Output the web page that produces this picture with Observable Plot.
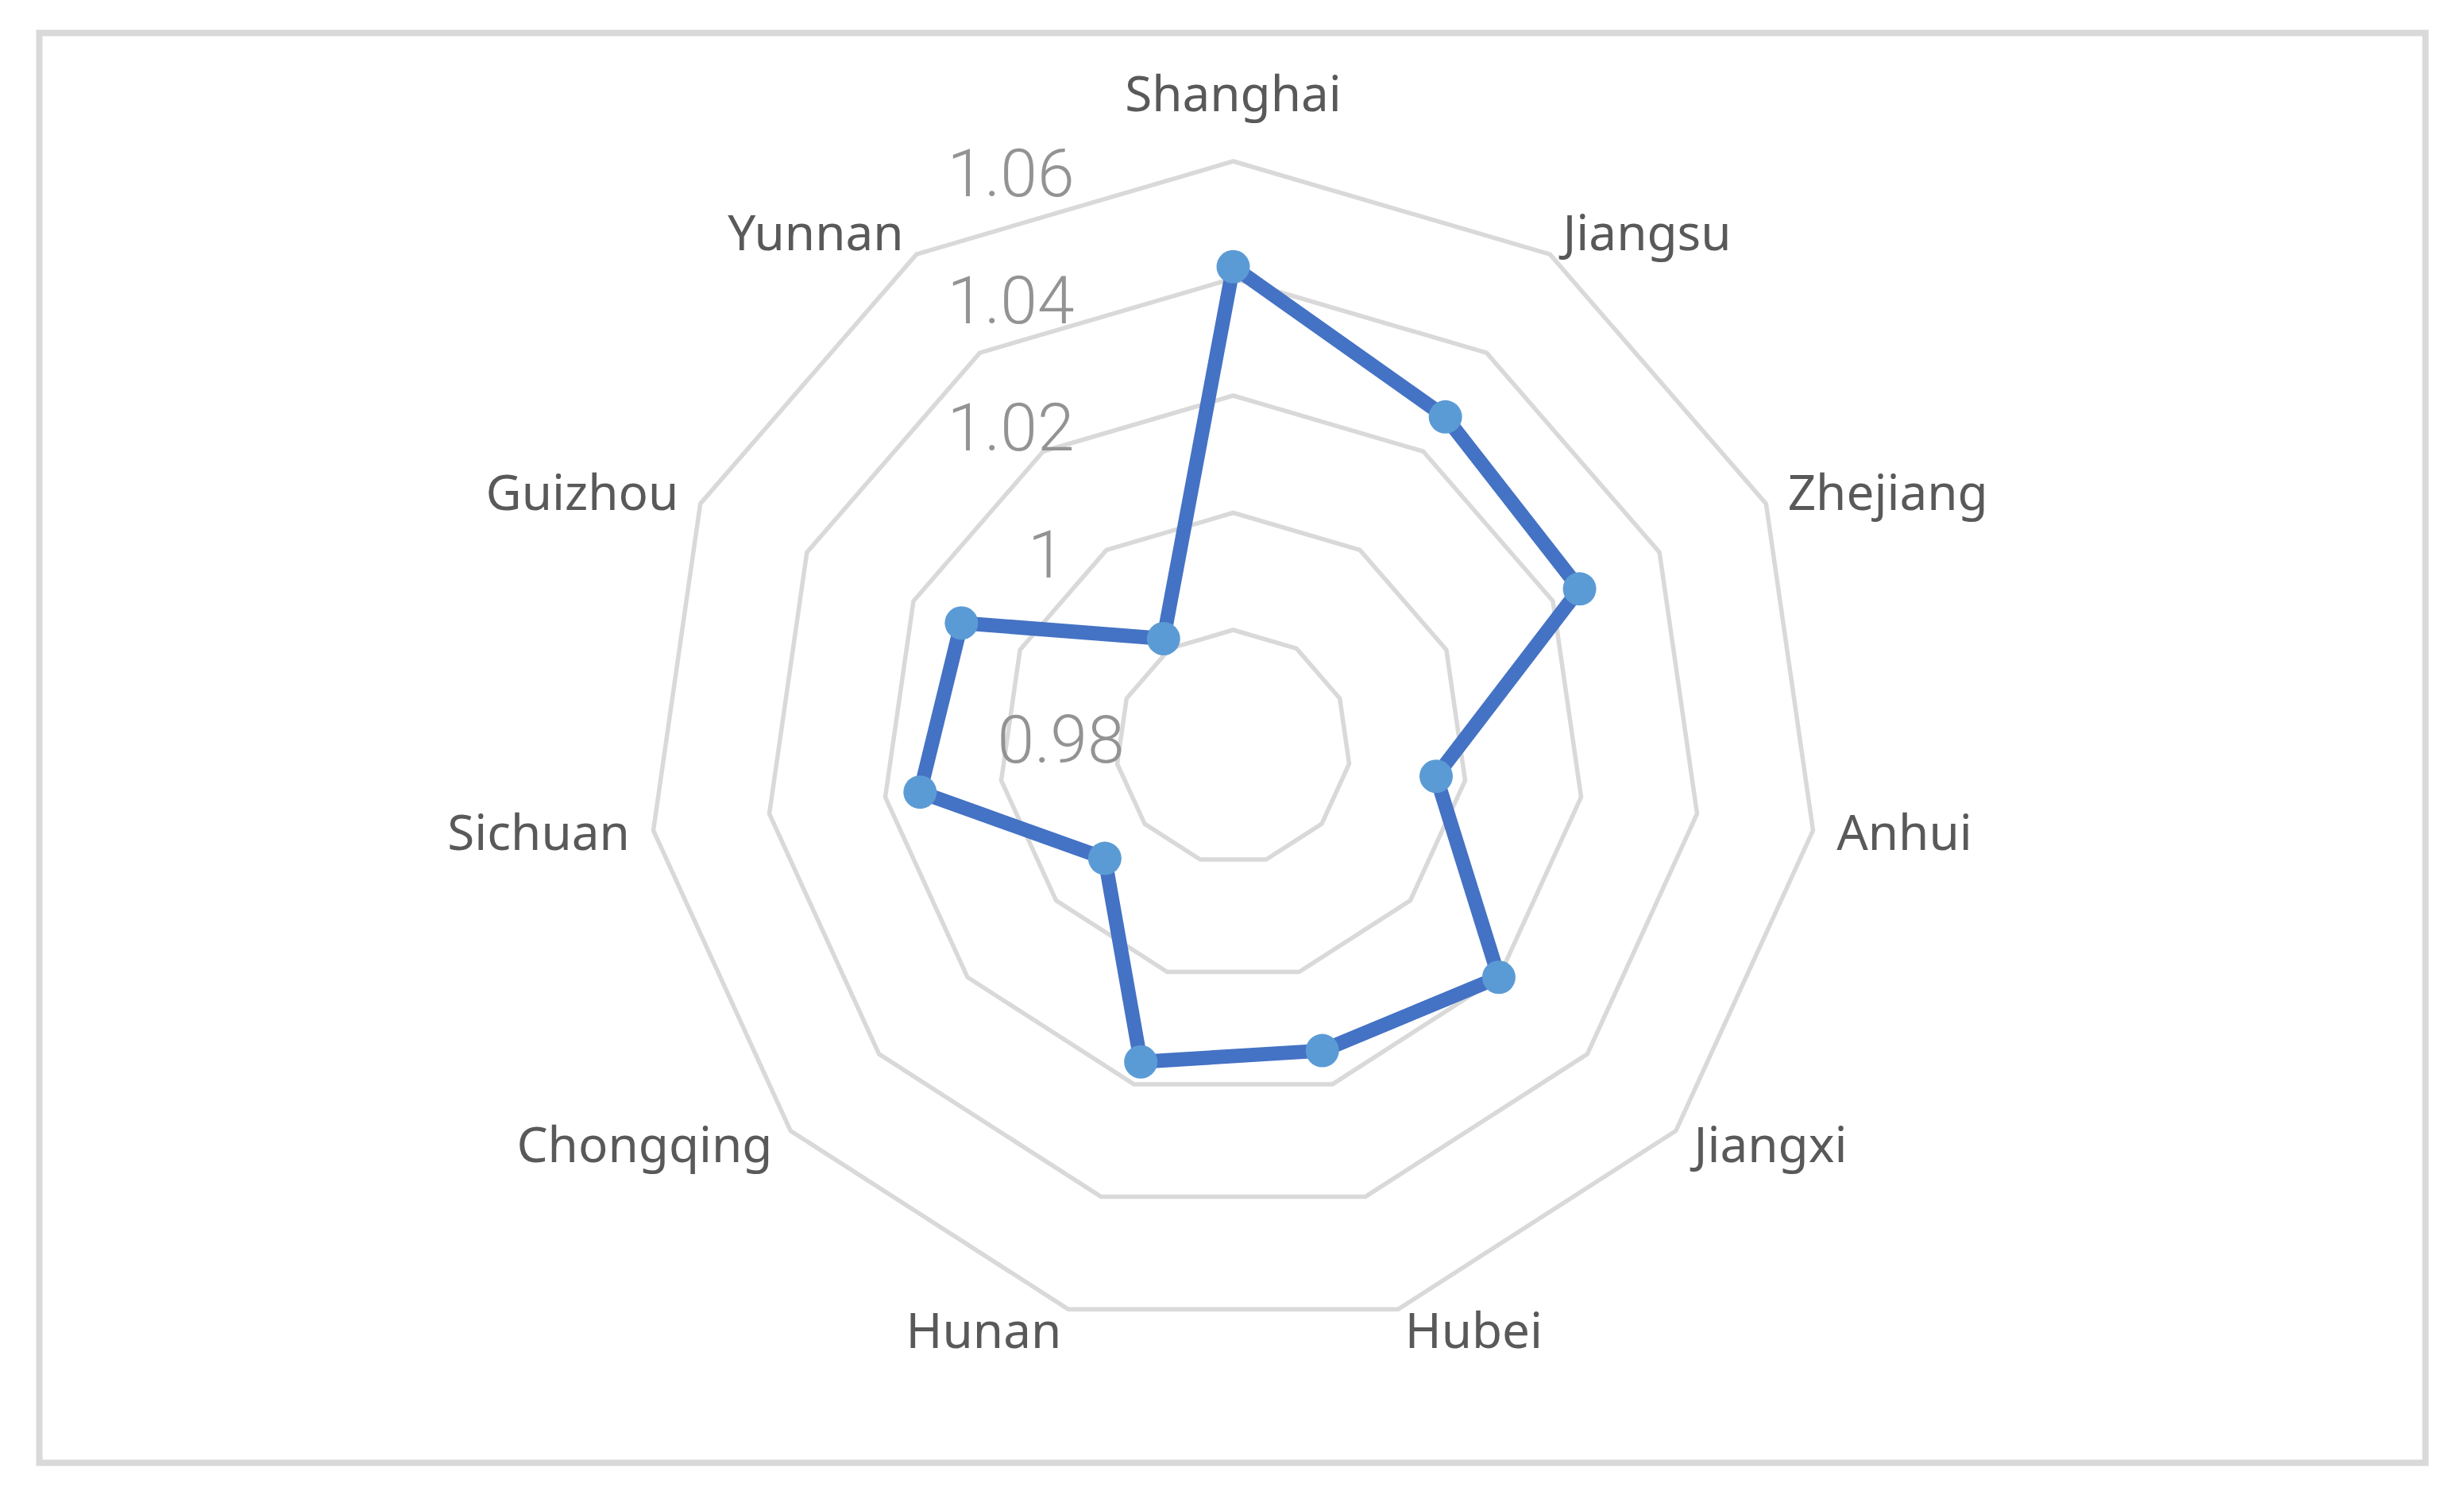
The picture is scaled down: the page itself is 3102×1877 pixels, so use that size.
<!DOCTYPE html>
<html>
<head>
<meta charset="utf-8">
<script src="https://cdn.jsdelivr.net/npm/d3@7"></script>
<script src="https://cdn.jsdelivr.net/npm/@observablehq/plot@0.6"></script>
<style>
  html, body { margin: 0; padding: 0; background: #ffffff; }
  #chart svg { display: block; }
</style>
</head>
<body>
<div id="chart"></div>
<script>
// ---- data ----
const categories = ["Shanghai", "Jiangsu", "Zhejiang", "Anhui", "Jiangxi", "Hubei", "Hunan", "Chongqing", "Sichuan", "Guizhou", "Yunnan"];
const values = [1.042, 1.027, 1.025, 0.995, 1.020, 1.014, 1.016, 0.989, 1.014, 1.011, 0.982];
const ringValues = [0.98, 1.00, 1.02, 1.04, 1.06];
const tickLabels = ["0.98", "1", "1.02", "1.04", "1.06"];
const axisMin = 0.96;
const axisMax = 1.06;

// ---- layout ----
const W = 3102, H = 1877;
const cx = 1552, cy = 940;   // centre of the radar in page pixels
const R = 737.5;             // radius of the outer ring
const n = categories.length;
const rScale = d3.scaleLinear().domain([axisMin, axisMax]).range([0, R]);
const ang = i => i * 2 * Math.PI / n;
const px = (i, r) => r * Math.sin(ang(i));
const py = (i, r) => r * Math.cos(ang(i));

// grid rings
const rings = [];
ringValues.forEach(v => {
  categories.forEach((c, i) => rings.push({ring: v, x: px(i, rScale(v)), y: py(i, rScale(v))}));
});

// series
const series = categories.map((c, i) => ({cat: c, v: values[i], x: px(i, rScale(values[i])), y: py(i, rScale(values[i]))}));

// category labels just outside the outer ring
const gap = 30;
const catLabels = categories.map((c, i) => {
  const s = Math.sin(ang(i)), co = Math.cos(ang(i));
  const anchor = s > 0.2 ? "start" : s < -0.2 ? "end" : "middle";
  const extra = anchor === "middle" ? 53 * Math.sign(co) : 0;
  return {text: c, x: (R + gap) * s, y: (R + gap) * co + extra, anchor};
});

// value-axis labels along the top axis (the innermost one sits at the centre level)
const tickData = ringValues.map((v, i) => i === 0
  ? {text: tickLabels[i], x: -137, y: rScale(axisMin) + 7}
  : {text: tickLabels[i], x: i === 1 ? -212 : -200, y: rScale(v) * 1.085 - 80});

const catFont = {fontFamily: "'Noto Sans', 'Open Sans', sans-serif", fontSize: 62, fill: "#595959"};

const chart = Plot.plot({
  width: W,
  height: H,
  margin: 0,
  x: {domain: [-cx, W - cx], axis: null},
  y: {domain: [-(H - cy), cy], axis: null},
  marks: [
    Plot.frame({stroke: "#d9d9d9", strokeWidth: 8, insetLeft: 49, insetTop: 41, insetRight: 49, insetBottom: 36}),
    Plot.line(rings, {x: "x", y: "y", z: "ring", curve: "linear-closed", stroke: "#d9d9d9", strokeWidth: 5.5}),
    Plot.text(tickData, {x: "x", y: "y", text: "text", textAnchor: "end", fontFamily: "Roboto, 'Noto Sans', sans-serif", fontWeight: 300, fontSize: 84, fill: "#939393"}),
    Plot.line(series, {x: "x", y: "y", curve: "linear-closed", stroke: "#4472C4", strokeWidth: 18, strokeLinejoin: "round"}),
    Plot.dot(series, {x: "x", y: "y", r: 21, fill: "#5B9BD5", stroke: "none"}),
    Plot.text(catLabels.filter(d => d.anchor === "start"), {x: "x", y: "y", text: "text", textAnchor: "start", ...catFont}),
    Plot.text(catLabels.filter(d => d.anchor === "end"), {x: "x", y: "y", text: "text", textAnchor: "end", ...catFont}),
    Plot.text(catLabels.filter(d => d.anchor === "middle"), {x: "x", y: "y", text: "text", textAnchor: "middle", ...catFont})
  ]
});
document.getElementById("chart").appendChild(chart);
</script>
</body>
</html>
